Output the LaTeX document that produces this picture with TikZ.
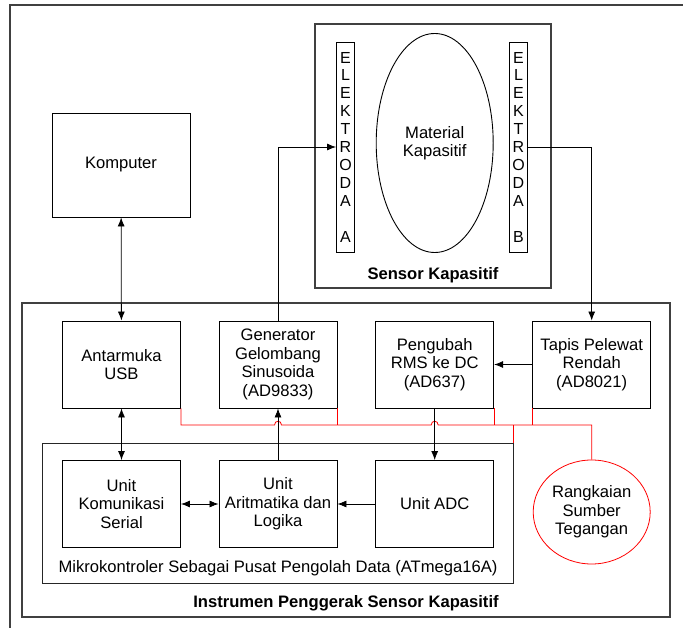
\documentclass[tikz,border=0pt]{standalone}
\usepackage{fontspec}
\setmainfont{Liberation Sans}
\usetikzlibrary{arrows.meta,shapes.geometric}
\tikzset{
  blok/.style={draw, line width=0.9pt, minimum width=118pt, minimum height=87pt, inner sep=0pt, align=center},
  elektroda/.style={draw, line width=0.9pt, minimum width=18pt, minimum height=210pt, inner sep=0pt, align=center, font=\fontsize{16}{17.9}\selectfont},
  wadah/.style={draw, line width=1.3pt, black!75, inner sep=0pt},
  panah/.style={-{Latex[length=9pt,width=7pt]}, line width=0.8pt},
  panahdua/.style={{Latex[length=9pt,width=7pt]}-{Latex[length=9pt,width=7pt]}, line width=0.8pt},
  daya/.style={red, line width=0.8pt}
}
\begin{document}
\begin{tikzpicture}[x=1pt, y=-1pt, font=\fontsize{16.6}{18.5}\selectfont]
\useasboundingbox (0,0) rectangle (683,628);
\draw[wadah] (10,628) -- (10,5) -- (683,5);

\node[wadah, minimum width=236pt, minimum height=264pt] (sensor) at (433,156) {};
\node[font=\fontsize{16.6}{18.5}\bfseries] (lsensor) at (433,275) {Sensor Kapasitif};
\node[elektroda] (elA) at (345.5,147) {E\\L\\E\\K\\T\\R\\O\\D\\A\\[17.9pt]A};
\node[elektroda] (elB) at (518.5,147) {E\\L\\E\\K\\T\\R\\O\\D\\A\\[17.9pt]B};
\node[draw, ellipse, line width=0.9pt, minimum width=117pt, minimum height=219pt, inner sep=0pt, align=center] (material) at (434.7,143) {Material\\Kapasitif};

\node[blok, minimum width=138pt, minimum height=104pt] (komp) at (121,165) {Komputer};

\node[wadah, minimum width=648pt, minimum height=314pt] (instr) at (346,460) {};
\node[font=\fontsize{16.6}{18.5}\bfseries] (linstr) at (346,603) {Instrumen Penggerak Sensor Kapasitif};
\node[wadah, line width=1pt, black!85, minimum width=471pt, minimum height=140pt] (mikro) at (277.5,513) {};
\node (lmikro) at (278,568) {Mikrokontroler Sebagai Pusat Pengolah Data (ATmega16A)};

\node[blok] (usb) at (121.5,364.5) {Antarmuka\\USB};
\node[blok] (gen) at (278,364.5) {Generator\\Gelombang\\Sinusoida\\(AD9833)};
\node[blok] (rms) at (434.7,364.5) {Pengubah\\RMS ke DC\\(AD637)};
\node[blok] (lpf) at (591.7,364.5) {Tapis Pelewat\\Rendah\\(AD8021)};

\node[blok] (serial) at (121.5,504) {Unit\\Komunikasi\\Serial};
\node[blok] (alu) at (278,504) {Unit\\Aritmatika dan\\Logika};
\node[blok] (adc) at (434.7,504) {Unit ADC};

\node[draw=red, ellipse, line width=0.8pt, minimum width=117pt, minimum height=104pt, inner sep=0pt, align=center] (psu) at (591.7,512) {Rangkaian\\Sumber\\Tegangan};

\coordinate (bus) at (0,425);
\draw[daya] (usb.south east) -- (usb.south east |- bus) -- (274.5,425) .. controls (274.5,420) and (281.5,420) .. (281.5,425)
  -- (431.2,425) .. controls (431.2,420) and (438.2,420) .. (438.2,425) -- (psu.north |- bus) -- (psu.north);
\draw[daya] (gen.south east) -- (gen.south east |- bus);
\draw[daya] (rms.south east) -- (rms.south east |- bus);
\draw[daya] (lpf.south west) -- (lpf.south west |- bus);
\draw[daya] (mikro.north east) -- (mikro.north east |- bus);

\draw[panahdua] (komp) -- (usb);
\draw[panahdua] (usb) -- (serial);
\draw[panahdua] (serial) -- (alu);
\draw[panah] (adc) -- (alu);
\draw[panah] (alu) -- (gen);
\draw[panah] (rms) -- (adc);
\draw[panah] (lpf) -- (rms);
\draw[panah] (gen.north) |- (elA.west);
\draw[panah] (elB.east) -| (lpf.north);
\end{tikzpicture}
\end{document}
